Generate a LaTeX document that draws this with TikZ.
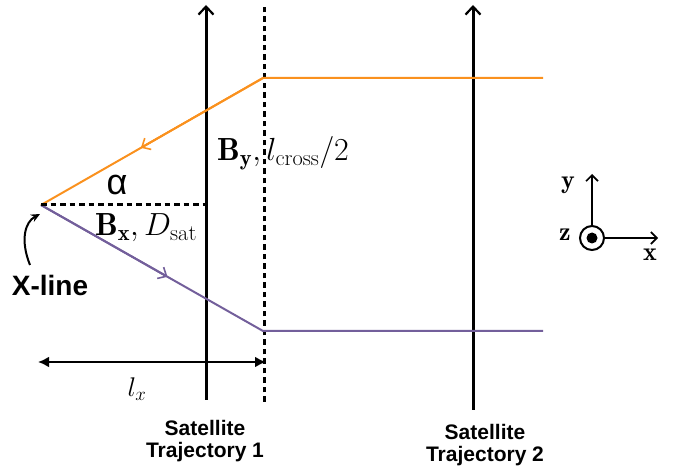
\RequirePackage{fix-cm}
\documentclass[tikz,border=0pt]{standalone}
\usepackage{fontspec}
\newfontfamily\arial{Liberation Sans}
\usetikzlibrary{arrows.meta,calc}
\definecolor{orng}{RGB}{250,145,30}
\definecolor{purp}{RGB}{115,95,155}
\begin{document}
\begin{tikzpicture}[x=1pt,y=-1pt,
  traj/.style={line width=3pt,-{Straight Barb[length=8pt,width=15pt,line width=2.2pt]}},
  fieldline/.style={line width=2pt},
  dashline/.style={line width=3pt,dash pattern=on 5.5pt off 4pt},
  lab/.style={font=\arial\bfseries\fontsize{21}{22}\selectfont,align=center},
  mlab/.style={font=\fontsize{32}{34}\selectfont,inner sep=0pt}]
\useasboundingbox (0,0) rectangle (689,473);
% key points
\coordinate (X) at (41,205);
\coordinate (Otop) at (263,78);
\coordinate (Oend) at (543,78);
\coordinate (Pbot) at (263,331);
\coordinate (Pend) at (543,331);
\coordinate (D1) at (206,205);
\coordinate (T1b) at (206,400);
\coordinate (T1t) at (206,5);
\coordinate (T2b) at (473,410);
\coordinate (T2t) at (473,5);
\coordinate (Vb) at (264,402);
\coordinate (Vt) at (264,5);
\coordinate (L1) at (38,362);
\coordinate (L2) at (266,362);
% trajectories
\draw[traj] (T1b) -- (T1t);
\draw[traj] (T2b) -- (T2t);
\draw[dashline] (Vb) -- (Vt);
% field lines
\draw[fieldline,orng] (Oend) -- (Otop) -- (X);
\draw[fieldline,orng,-{Straight Barb[length=7pt,width=13pt,line width=1.6pt]}] (Otop) -- ($(Otop)!0.55!(X)$);
\draw[fieldline,purp] (X) -- (Pbot) -- (Pend);
\draw[fieldline,purp,-{Straight Barb[length=7pt,width=13pt,line width=1.6pt]}] (X) -- ($(X)!0.57!(Pbot)$);
\draw[dashline] (X) -- (D1);
% l_x
\draw[line width=2.2pt,{Latex[length=11pt,width=11pt]}-{Latex[length=11pt,width=11pt]}] (L1) -- (L2);
\node[mlab,font=\fontsize{27}{29}\selectfont] (lx) at (137,389) {$l_x$};
% labels
\node[mlab,anchor=west] (by) at (217,153) {$\mathbf{B_y}, l_{\mathrm{cross}}/2$};
\node[font=\arial\fontsize{36}{38}\selectfont,inner sep=0pt] (alpha) at (117,185) {α};
\node[mlab] (bx) at (146,228) {$\mathbf{B_x}, D_{\mathrm{sat}}$};
\node[lab,font=\arial\bfseries\fontsize{28}{30}\selectfont,inner sep=0pt] (xl) at (50,285) {X-line};
\draw[line width=2pt,-{Stealth[length=9pt,width=8pt]}] (30,265) .. controls (20,240) and (25,222) .. (40,214);
\node[lab] (s1) at (205,441) {Satellite\\Trajectory 1};
\node[lab] (s2) at (485,445) {Satellite\\Trajectory 2};
% axes
\coordinate (O) at (592,238);
\draw[line width=2pt,-{Straight Barb[length=6pt,width=12pt,line width=1.6pt]}] (O) -- (592,174);
\draw[line width=2pt,-{Straight Barb[length=6pt,width=12pt,line width=1.6pt]}] (O) -- (658,238);
\draw[line width=2pt,fill=white] (O) circle (12);
\fill (O) circle (5.5);
\node[mlab,font=\fontsize{26}{28}\selectfont] (ay) at (568,185) {$\mathbf{y}$};
\node[mlab,font=\fontsize{26}{28}\selectfont] (az) at (565,235) {$\mathbf{z}$};
\node[mlab,font=\fontsize{26}{28}\selectfont] (ax) at (650,255) {$\mathbf{x}$};
\end{tikzpicture}
\end{document}
